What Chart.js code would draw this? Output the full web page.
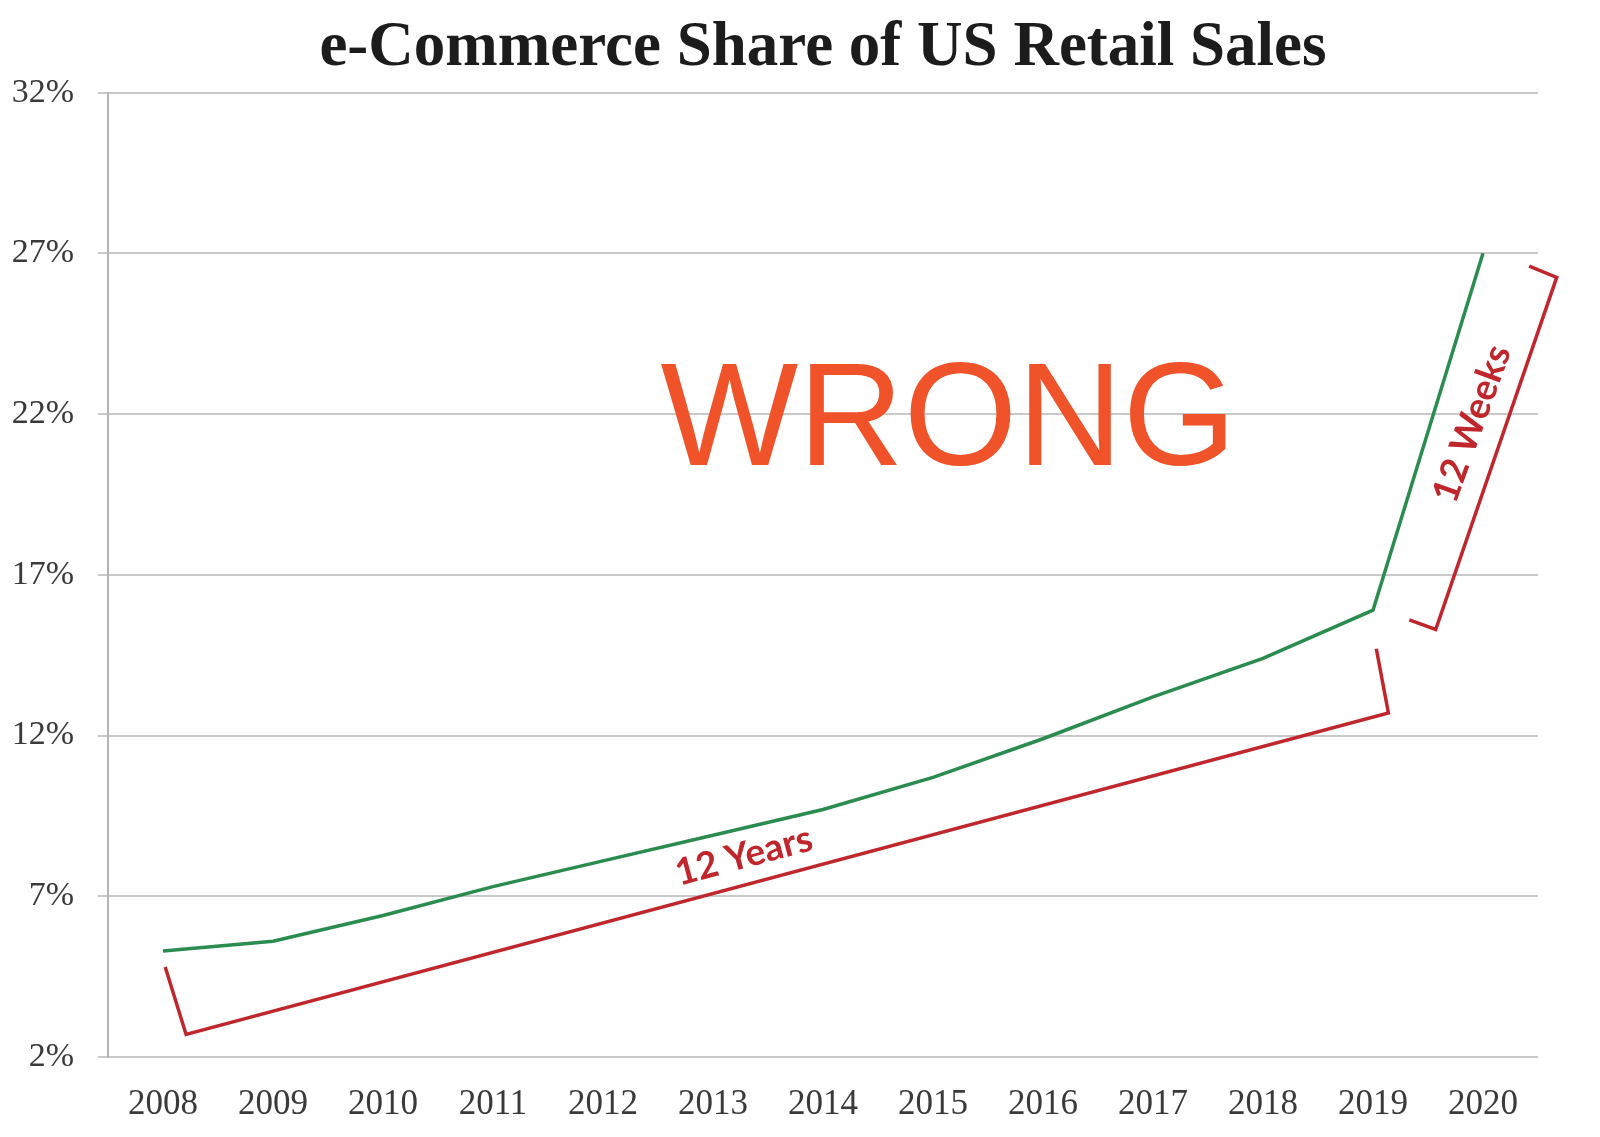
<!DOCTYPE html>
<html>
<head>
<meta charset="utf-8">
<title>e-Commerce Share of US Retail Sales</title>
<script src="https://cdn.jsdelivr.net/npm/chart.js@4"></script>
<style>
  html, body { margin: 0; padding: 0; background: #fff; }
  #wrap { width: 1600px; height: 1137px; position: relative; }
</style>
</head>
<body>
<div id="wrap"><canvas id="shareChart"></canvas></div>
<script>
// Years on the x axis
const years = ["2008", "2009", "2010", "2011", "2012", "2013", "2014",
               "2015", "2016", "2017", "2018", "2019", "2020"];

// e-commerce share of retail sales (%)
const sharePct = [5.3, 5.6, 6.4, 7.3, 8.1, 8.9, 9.7, 10.7, 11.9, 13.2, 14.4, 15.9, 27.0];

// y axis ticks
const yTicks = [2, 7, 12, 17, 22, 27, 32];

// red brackets, as [year index, percent]
const yearsBracket = [[0.02, 4.8], [0.21, 2.7], [11.14, 12.7], [11.03, 14.7]];
const weeksBracket = [[11.33, 15.6], [11.57, 15.3], [12.67, 26.25], [12.42, 26.6]];

// annotation texts: [text, year index, percent, angle in degrees]
const notes = [
    ["12 Years", 5.28, 8.25, -15],
    ["12 Weeks", 11.9, 21.7, -70]
];
// stamp: [text, year index, percent at baseline]
const stamp = ["WRONG", 7.14, 20.43];

const RED = '#c0272d';
const GREEN = '#2b8c50';

// draws the brackets, their labels and the stamp
const annotate = {
    id: 'annotate',
    afterDatasetsDraw(chart) {
        const ctx = chart.ctx;
        const xs = chart.scales.x, ys = chart.scales.y;
        const px = p => [xs.getPixelForValue(p[0]), ys.getPixelForValue(p[1])];

        ctx.save();
        ctx.strokeStyle = RED;
        ctx.lineWidth = 3.5;
        ctx.lineJoin = 'miter';
        [yearsBracket, weeksBracket].forEach(br => {
            ctx.beginPath();
            br.forEach((p, i) => {
                const [x, y] = px(p);
                if (i === 0) ctx.moveTo(x, y); else ctx.lineTo(x, y);
            });
            ctx.stroke();
        });

        ctx.fillStyle = RED;
        ctx.font = 'bold 37px Lato, "Open Sans", sans-serif';
        ctx.textAlign = 'center';
        ctx.textBaseline = 'middle';
        notes.forEach(n => {
            const [x, y] = px([n[1], n[2]]);
            ctx.save();
            ctx.translate(x, y);
            ctx.rotate(n[3] * Math.PI / 180);
            ctx.fillText(n[0], 0, 0);
            ctx.restore();
        });

        const [sx, sy] = px([stamp[1], stamp[2]]);
        ctx.fillStyle = '#f0522a';
        ctx.font = '146px "Liberation Sans", Arial, sans-serif';
        ctx.textBaseline = 'alphabetic';
        ctx.fillText(stamp[0], sx, sy);
        ctx.restore();
    }
};

const ctx = document.getElementById('shareChart').getContext('2d');

let shareChart = new Chart(ctx, {
    type: 'line',
    data: {
        labels: years,
        datasets: [{
            label: 'e-Commerce share',
            data: sharePct,
            borderColor: GREEN,
            borderWidth: 3.5,
            pointRadius: 0,
            tension: 0,
            fill: false
        }]
    },
    options: {
        responsive: true,
        maintainAspectRatio: false,
        animation: false,
        layout: { padding: 0 },
        plugins: {
            legend: { display: false },
            tooltip: { enabled: false },
            title: {
                display: true,
                fullSize: false,   // centred over the plot area, not the canvas
                text: 'e-Commerce Share of US Retail Sales',
                color: '#1c1c1c',
                font: { family: '"Liberation Serif", serif', size: 63, weight: 'bold', lineHeight: 1.2 },
                padding: { top: 11, bottom: 6 }
            }
        },
        scales: {
            x: {
                offset: true,
                grid: { display: false },
                border: { display: false },
                ticks: {
                    color: '#3a3a3a',
                    font: { family: '"Liberation Serif", serif', size: 35 },
                    padding: 19,
                    maxRotation: 0
                },
                afterFit(s) { s.height = 80; }
            },
            y: {
                min: 2,
                max: 32,
                afterBuildTicks(s) { s.ticks = yTicks.map(v => ({ value: v })); },
                grid: { color: '#c9c9c9', lineWidth: 2, tickLength: 10 },
                border: { display: true, color: '#b5b5b5', width: 2 },
                ticks: {
                    color: '#3a3a3a',
                    font: { family: '"Liberation Serif", serif', size: 34 },
                    padding: 24,
                    callback: v => v + '%'
                },
                afterFit(s) { s.width = 108; }
            },
            // empty margin on the right, where the bracket sticks out
            margin: {
                position: 'right',
                grid: { display: false },
                border: { display: false },
                ticks: { display: false },
                afterFit(s) { s.width = 62; }
            }
        }
    },
    plugins: [annotate]
});
</script>
</body>
</html>
